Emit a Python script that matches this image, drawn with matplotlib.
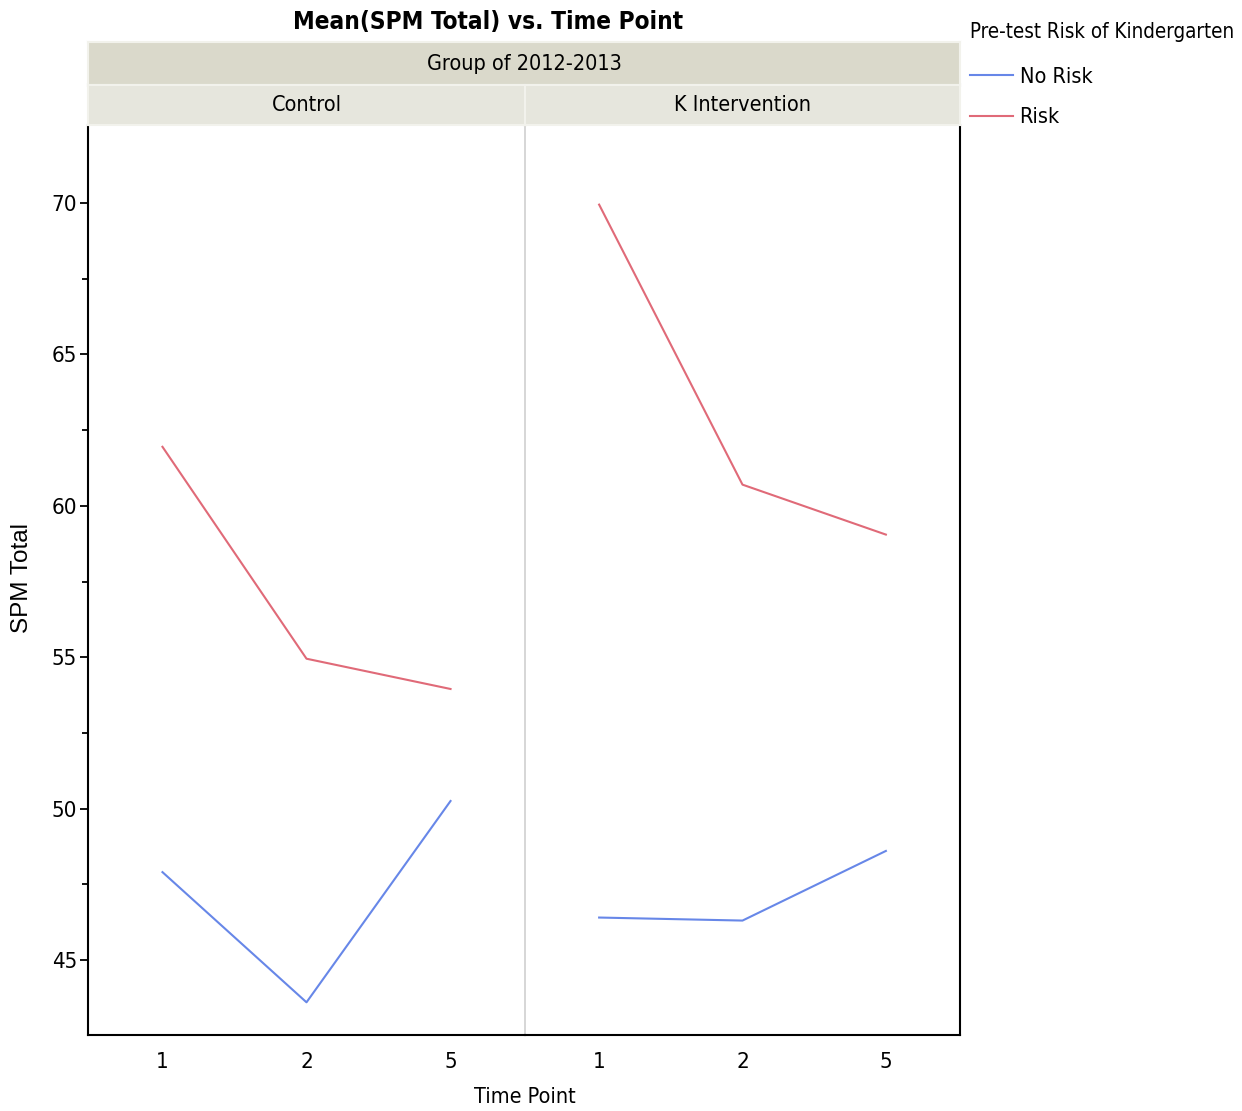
import matplotlib.pyplot as plt
import numpy as np

time_points = ['1', '2', '5']
groups = ['Control', 'K Intervention']
risk_levels = ['No Risk', 'Risk']
no_risk = {'Control': [47.9, 43.6, 50.25], 'K Intervention': [46.4, 46.3, 48.6]}
risk = {'Control': [61.95, 54.95, 53.95], 'K Intervention': [69.95, 60.7, 59.05]}
colors = {'No Risk': '#6787E8', 'Risk': '#E06A78'}

plt.rcParams['font.family'] = ['DejaVu Sans']
plt.rcParams['font.stretch'] = 'condensed'

W, H = 1242, 1111
fig = plt.figure(figsize=(W / 100, H / 100), dpi=100)

def box(x0, y0, x1, y1):
    # pixel box -> figure fraction
    return [x0 / W, 1 - y1 / H, (x1 - x0) / W, (y1 - y0) / H]

x0, xm, x1 = 88, 525, 960
ytop, ybot = 125, 1035

axes = [fig.add_axes(box(x0, ytop, xm, ybot)), fig.add_axes(box(xm, ytop, x1, ybot))]
xpos = np.arange(len(time_points))
for i, (ax, g) in enumerate(zip(axes, groups)):
    ax.plot(xpos, no_risk[g], color=colors['No Risk'], lw=1.5, label='No Risk')
    ax.plot(xpos, risk[g], color=colors['Risk'], lw=1.5, label='Risk')
    ax.set_xlim(-0.517, 2.517)
    ax.set_ylim(42.52, 72.58)
    ax.set_xticks(xpos)
    ax.set_xticklabels(time_points, fontsize=16)
    ax.tick_params(axis='x', length=0, pad=12)
    ax.spines['top'].set_visible(False)
    for s in ['left', 'right', 'bottom']:
        ax.spines[s].set_linewidth(1.5)
    if i == 0:
        ax.set_yticks([45, 50, 55, 60, 65, 70])
        ax.set_yticks(np.arange(47.5, 70, 5), minor=True)
        ax.tick_params(axis='y', labelsize=16, length=6, width=1.3, pad=2)
        ax.tick_params(axis='y', which='minor', length=4, width=1.3)
        ax.spines['right'].set_color('#CFCFCF')
        ax.spines['right'].set_linewidth(1.2)
    else:
        ax.patch.set_visible(False)
        ax.set_yticks([])
        ax.spines['left'].set_visible(False)

# facet strips
top_strip = fig.add_axes(box(x0, 42, x1, 85))
top_strip.set_facecolor('#DAD9CB')
top_strip.text(0.5, 0.5, 'Group of 2012-2013', ha='center', va='center', fontsize=15.5)
for g, (a, b) in zip(groups, [(x0, xm), (xm, x1)]):
    s = fig.add_axes(box(a, 85, b, 125))
    s.set_facecolor('#E6E6DD')
    s.text(0.5, 0.5, g, ha='center', va='center', fontsize=15.5)
for s in fig.axes[2:]:
    s.set_xticks([])
    s.set_yticks([])
    for sp in s.spines.values():
        sp.set_color('#F2F2EC')
        sp.set_linewidth(1.5)

fig.text(488 / W, 1 - 22 / H, 'Mean(SPM Total) vs. Time Point', ha='center', va='center',
         fontsize=17.5, fontweight='bold')
fig.text(525 / W, 1 - 1097 / H, 'Time Point', ha='center', va='center', fontsize=15.5)
fig.text(22 / W, 1 - 578 / H, 'SPM Total', ha='center', va='center', rotation=90, fontsize=17.5,
         family=['Liberation Sans', 'DejaVu Sans'], stretch='normal')

leg = fig.legend(*axes[0].get_legend_handles_labels(), loc='upper left',
                 bbox_to_anchor=(970 / W, 1 - 22 / H), frameon=False, fontsize=15.5,
                 title='Pre-test Risk of Kindergarten', title_fontsize=14.8,
                 handlelength=2.0, handletextpad=0.3, labelspacing=0.95, borderaxespad=0,
                 borderpad=0)
leg._legend_box.align = 'left'
leg._legend_box.sep = 18

fig.savefig('out.png', dpi=100)
